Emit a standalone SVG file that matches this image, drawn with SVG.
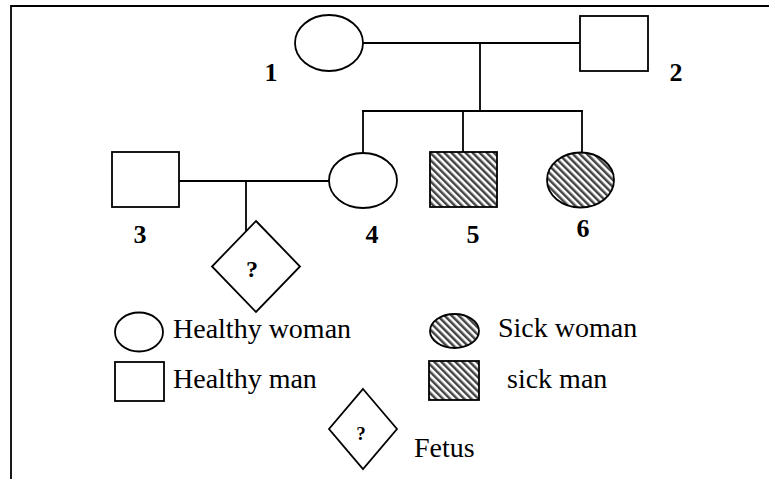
<svg xmlns="http://www.w3.org/2000/svg" width="769" height="479" viewBox="0 0 769 479">
<style>
.shape{fill:#fff;stroke:#000;stroke-width:1.8}
.sick{fill:url(#hatch);stroke:#000;stroke-width:1.8}
.line{stroke:#000;stroke-width:1.8;fill:none}
.num{font-family:"Liberation Serif","Times New Roman",serif;font-weight:bold;font-size:26px;fill:#000;text-anchor:middle}
.q{font-family:"Liberation Serif","Times New Roman",serif;font-weight:bold;font-size:24px;fill:#000;text-anchor:middle}
.leg{font-family:"Liberation Serif","Times New Roman",serif;font-size:28px;fill:#000}
</style>
<defs>
<pattern id="hatch" patternUnits="userSpaceOnUse" width="5" height="5" patternTransform="rotate(-45)">
<rect width="5" height="5" fill="#fff"/>
<rect width="2.5" height="5" fill="#444"/>
</pattern>
</defs>
<g id="frame">
<line class="line" x1="11" y1="6" x2="769" y2="6"/>
<line class="line" x1="11" y1="5" x2="11" y2="479"/>
</g>
<g id="connectors">
<line class="line" x1="363" y1="43" x2="580" y2="43"/>
<line class="line" x1="480" y1="43" x2="480" y2="111"/>
<line class="line" x1="362" y1="111" x2="583" y2="111"/>
<line class="line" x1="363" y1="111" x2="363" y2="153"/>
<line class="line" x1="463" y1="111" x2="463" y2="152"/>
<line class="line" x1="582" y1="111" x2="582" y2="152"/>
<line class="line" x1="179" y1="181" x2="329" y2="181"/>
<line class="line" x1="246" y1="181" x2="246" y2="231"/>
</g>
<g id="node1">
<ellipse class="shape" cx="329" cy="43" rx="34" ry="28"/>
<text class="num" x="271" y="81">1</text>
</g>
<g id="node2">
<rect class="shape" x="580" y="16" width="68" height="55"/>
<text class="num" x="676" y="81">2</text>
</g>
<g id="node3">
<rect class="shape" x="112" y="152" width="67" height="55"/>
<text class="num" x="140" y="243">3</text>
</g>
<g id="node4">
<ellipse class="shape" cx="363" cy="180.5" rx="34" ry="27.5"/>
<text class="num" x="372" y="243">4</text>
</g>
<g id="node5">
<rect class="sick" x="430" y="152" width="67" height="55"/>
<text class="num" x="473" y="243">5</text>
</g>
<g id="node6">
<ellipse class="sick" cx="580.5" cy="180" rx="33.5" ry="27.5"/>
<text class="num" x="583" y="237">6</text>
</g>
<g id="fetus">
<polygon class="shape" points="256,221 300,266.5 256,312 212,266.5"/>
<text class="q" x="252" y="277">?</text>
</g>
<g id="legend-healthy-woman">
<ellipse class="shape" cx="139" cy="332" rx="24" ry="19.5"/>
<text class="leg" x="173" y="338">Healthy woman</text>
</g>
<g id="legend-healthy-man">
<rect class="shape" x="115" y="362" width="49" height="39"/>
<text class="leg" x="173" y="388">Healthy man</text>
</g>
<g id="legend-sick-woman">
<ellipse class="sick" cx="454.5" cy="331" rx="24.5" ry="17"/>
<text class="leg" x="498" y="337">Sick woman</text>
</g>
<g id="legend-sick-man">
<rect class="sick" x="429" y="361" width="50" height="39"/>
<text class="leg" x="507" y="388">sick man</text>
</g>
<g id="legend-fetus">
<polygon class="shape" points="363,389 397,429 363,469 329,429"/>
<text class="q" x="361" y="440" style="font-size:19px">?</text>
<text class="leg" x="414" y="457">Fetus</text>
</g>
</svg>
